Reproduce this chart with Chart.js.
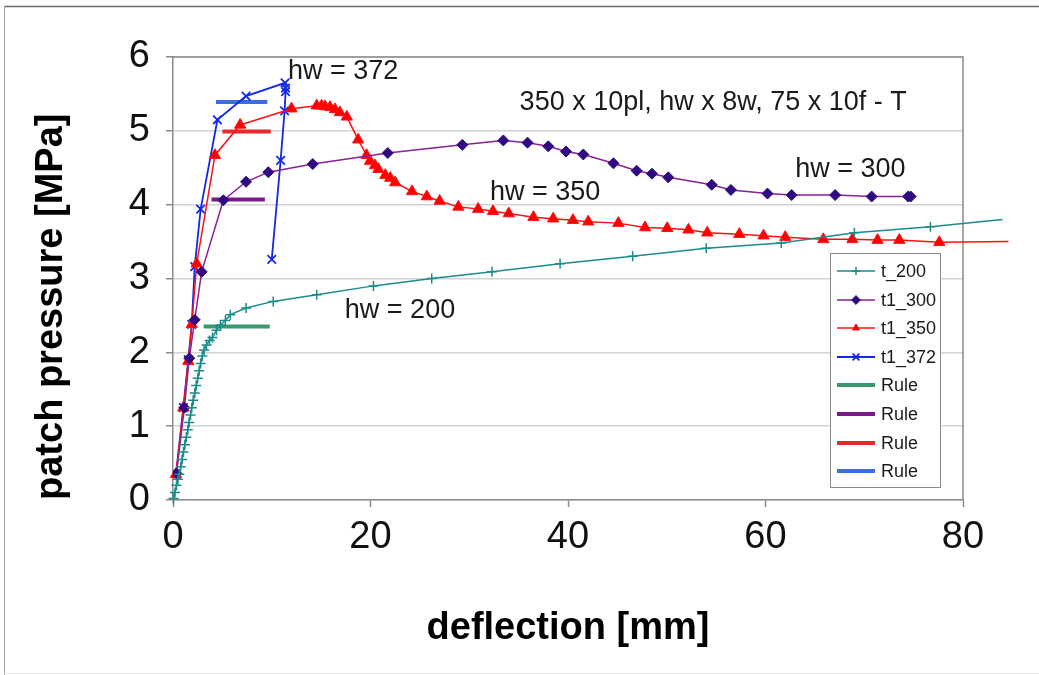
<!DOCTYPE html>
<html><head><meta charset="utf-8">
<script src="https://cdn.jsdelivr.net/npm/chart.js@4/dist/chart.umd.min.js"></script>
<style>html,body{margin:0;padding:0;background:#fff}canvas{display:block}</style>
</head><body><canvas id="c" width="1039" height="675"></canvas>
<script>
// ---- data ----
const xTicks = [0, 20, 40, 60, 80];
const yTicks = [0, 1, 2, 3, 4, 5, 6];

const t200X = [0.05,0.2,0.35,0.5,0.64,0.78,0.92,1.06,1.2,1.35,1.5,1.63,1.77,1.9,2.05,2.2,2.35,2.5,2.65,2.8,2.97,3.15,3.4,3.7,4.0,4.4,4.8,5.3,5.8,7.4,10.15,14.55,20.3,26.2,32.3,39.2,46.55,54.0,61.6,69.0,76.7,84.0];
const t200Y = [0.02,0.1,0.2,0.28,0.35,0.45,0.55,0.65,0.75,0.85,0.95,1.05,1.15,1.25,1.35,1.45,1.55,1.65,1.75,1.85,1.95,2.03,2.1,2.16,2.2,2.3,2.37,2.43,2.51,2.6,2.69,2.78,2.9,3.0,3.09,3.2,3.3,3.41,3.48,3.62,3.7,3.8];

const t300X = [0.35,1.15,1.65,2.2,2.9,5.1,7.4,9.65,14.15,21.75,29.3,33.45,35.9,38.0,39.8,41.55,44.6,46.95,48.5,50.15,54.55,56.5,60.2,62.65,67.05,70.75,74.45,74.7];
const t300Y = [0.36,1.25,1.92,2.44,3.09,4.06,4.31,4.44,4.55,4.7,4.81,4.87,4.84,4.79,4.72,4.68,4.56,4.46,4.42,4.37,4.27,4.2,4.15,4.13,4.13,4.11,4.11,4.11];

const t350X = [0.3,1.05,1.55,1.9,2.4,4.25,6.8,12.0,14.55,15.05,15.4,15.9,16.4,16.9,17.6,18.75,19.6,19.95,20.45,20.8,21.5,22.0,22.5,24.2,25.7,27.0,28.9,30.9,32.4,34.0,36.5,38.5,40.5,42.05,45.1,47.8,50.05,52.2,54.1,57.35,59.8,62.0,65.85,68.8,71.35,73.55,77.6,84.6];
const t350Y = [0.35,1.25,1.88,2.38,3.2,4.67,5.08,5.3,5.34,5.34,5.33,5.32,5.29,5.25,5.19,4.88,4.67,4.59,4.53,4.48,4.4,4.36,4.3,4.18,4.11,4.05,3.97,3.94,3.91,3.88,3.83,3.81,3.79,3.77,3.75,3.69,3.68,3.66,3.62,3.6,3.58,3.56,3.53,3.53,3.52,3.52,3.49,3.5];

const t372X = [0.3,1.05,1.55,1.9,2.2,2.8,4.5,7.4,11.35,11.4,11.4,11.3,10.9,10.0];
const t372Y = [0.34,1.25,1.9,2.38,3.16,3.94,5.15,5.47,5.65,5.58,5.53,5.27,4.6,3.26];

const rule200X = [3.1, 9.8];  const rule200Y = [2.35, 2.35];
const rule300X = [3.9, 9.3];  const rule300Y = [4.07, 4.07];
const rule350X = [5.0, 9.9];  const rule350Y = [4.99, 4.99];
const rule372X = [4.35, 9.55]; const rule372Y = [5.39, 5.39];

const seriesLabels = ['t_200', 't1_300', 't1_350', 't1_372', 'Rule', 'Rule', 'Rule', 'Rule'];

const annoText = ['hw = 372', '350 x 10pl, hw x 8w, 75 x 10f - T', 'hw = 300', 'hw = 350', 'hw = 200'];
const annoX = [11.65, 35.1, 63.0, 32.1, 17.4];
const annoY = [5.8, 5.38, 4.47, 4.17, 2.57];

const xTitle = 'deflection [mm]';
const yTitle = 'patch pressure [MPa]';

// ---- build ----
const pts = (xs, ys) => xs.map((x, i) => ({x: x, y: ys[i]}));
const FONT = "'Liberation Sans', Arial, Helvetica, sans-serif";
const hideOutside = ctx => (ctx.raw && ctx.raw.x > 80) ? 0 : undefined;

const datasets = [
  {label: seriesLabels[0], data: pts(t200X, t200Y), borderColor: '#1a8c8c', backgroundColor: '#1a8c8c',
   borderWidth: 1.5, pointStyle: 'cross', pointRadius: c => hideOutside(c) ?? 5, pointBorderWidth: 1.5, clip: false},
  {label: seriesLabels[1], data: pts(t300X, t300Y), borderColor: '#8a1f9a', backgroundColor: '#2f0a80',
   pointBorderColor: '#2f0a80', borderWidth: 1.5, pointStyle: 'rectRot', pointRadius: 5.5, pointBorderWidth: 1},
  {label: seriesLabels[2], data: pts(t350X, t350Y), borderColor: '#ff1010', backgroundColor: '#ff0000',
   borderWidth: 1.5, pointStyle: 'triangle', pointRadius: c => hideOutside(c) ?? 6.5, pointBorderWidth: 1, clip: false},
  {label: seriesLabels[3], data: pts(t372X, t372Y), borderColor: '#1428e6', backgroundColor: '#1428e6',
   borderWidth: 1.8, pointStyle: 'crossRot', pointRadius: 6, pointBorderWidth: 1.8},
  {label: seriesLabels[4], data: pts(rule200X, rule200Y), borderColor: '#3a9a6e', borderWidth: 4, pointRadius: 0},
  {label: seriesLabels[5], data: pts(rule300X, rule300Y), borderColor: '#7a1a8a', borderWidth: 4, pointRadius: 0},
  {label: seriesLabels[6], data: pts(rule350X, rule350Y), borderColor: '#e8282a', borderWidth: 4, pointRadius: 0},
  {label: seriesLabels[7], data: pts(rule372X, rule372Y), borderColor: '#3a6de0', borderWidth: 4, pointRadius: 0}
];

const framePlugin = {
  id: 'frame',
  beforeDraw(chart) {
    const ctx = chart.ctx;
    ctx.save();
    ctx.fillStyle = '#fff';
    ctx.fillRect(0, 0, chart.width, chart.height);
    ctx.strokeStyle = '#6a6a6a';
    ctx.lineWidth = 1.5;
    ctx.beginPath(); ctx.moveTo(4, 6.5); ctx.lineTo(chart.width, 6.5); ctx.stroke();
    ctx.strokeStyle = '#a0a0a0';
    ctx.lineWidth = 1;
    ctx.beginPath(); ctx.moveTo(4.5, 6); ctx.lineTo(4.5, chart.height); ctx.stroke();
    ctx.strokeStyle = '#e6e6e6';
    ctx.beginPath(); ctx.moveTo(4, chart.height - 1.5); ctx.lineTo(chart.width, chart.height - 1.5); ctx.stroke();
    ctx.restore();
  },
  beforeDatasetsDraw(chart) {
    const {ctx, chartArea: a} = chart;
    ctx.save();
    ctx.strokeStyle = '#8a8a8a';
    ctx.lineWidth = 1.5;
    ctx.beginPath();
    ctx.moveTo(a.left, a.top); ctx.lineTo(a.right, a.top); ctx.lineTo(a.right, a.bottom);
    ctx.stroke();
    ctx.restore();
  },
  afterDraw(chart) {
    const ctx = chart.ctx;
    const xs = chart.scales.x, ys = chart.scales.y;
    ctx.save();
    // annotations
    ctx.fillStyle = '#1a1a1a';
    ctx.font = '27px ' + FONT;
    ctx.textAlign = 'left';
    ctx.textBaseline = 'middle';
    annoText.forEach((t, i) => ctx.fillText(t, xs.getPixelForValue(annoX[i]), ys.getPixelForValue(annoY[i])));
    // legend
    const bx = 830, by = 253, bw = 110, bh = 234;
    ctx.fillStyle = '#fff';
    ctx.fillRect(bx, by, bw, bh);
    ctx.strokeStyle = '#8a8a8a';
    ctx.lineWidth = 1;
    ctx.strokeRect(bx + 0.5, by + 0.5, bw, bh);
    const rowY = [271, 300, 328, 357, 385, 414, 443, 471];
    chart.data.datasets.forEach((ds, i) => {
      const y = rowY[i];
      ctx.strokeStyle = ds.borderColor;
      ctx.lineWidth = ds.borderWidth;
      ctx.beginPath(); ctx.moveTo(837, y); ctx.lineTo(875, y); ctx.stroke();
      const r = typeof ds.pointRadius === 'number' ? ds.pointRadius : 5;
      if (r > 0) {
        ctx.fillStyle = ds.backgroundColor;
        ctx.strokeStyle = ds.pointBorderColor || ds.borderColor;
        ctx.lineWidth = ds.pointBorderWidth || 1;
        Chart.helpers.drawPoint(ctx, {pointStyle: ds.pointStyle, radius: r * 0.8, borderWidth: ds.pointBorderWidth || 1, rotation: 0}, 856, y);
      }
      ctx.fillStyle = '#1a1a1a';
      ctx.font = '18px ' + FONT;
      ctx.textAlign = 'left';
      ctx.textBaseline = 'middle';
      ctx.fillText(ds.label, 881, y + 1);
    });
    ctx.restore();
  }
};

new Chart(document.getElementById('c'), {
  type: 'line',
  data: {datasets: datasets},
  plugins: [framePlugin],
  options: {
    responsive: false,
    animation: false,
    devicePixelRatio: 1,
    parsing: true,
    layout: {padding: {left: 8, right: 76, top: 57, bottom: 0}},
    elements: {line: {tension: 0}},
    plugins: {legend: {display: false}, tooltip: {enabled: false}},
    scales: {
      x: {
        type: 'linear', min: xTicks[0], max: xTicks[xTicks.length - 1],
        afterFit: s => { s.height = 175; },
        afterBuildTicks: s => { s.ticks = xTicks.map(v => ({value: v})); },
        ticks: {font: {family: FONT, size: 38}, color: '#111', padding: 8, maxRotation: 0},
        grid: {drawOnChartArea: false, drawTicks: true, tickLength: 7, tickColor: '#8a8a8a', tickWidth: 1.5},
        border: {color: '#8a8a8a', width: 1.5},
        title: {display: true, text: xTitle, font: {family: FONT, size: 38, weight: 'bold'}, color: '#000', padding: {top: 0, bottom: 24}}
      },
      y: {
        type: 'linear', min: yTicks[0], max: yTicks[yTicks.length - 1],
        afterFit: s => { s.width = 165; },
        afterBuildTicks: s => { s.ticks = yTicks.map(v => ({value: v})); },
        ticks: {font: {family: FONT, size: 38}, color: '#111', padding: 16},
        grid: {color: '#d2d2d2', lineWidth: 1.5, drawTicks: true, tickLength: 7, tickColor: '#8a8a8a', tickWidth: 1.5},
        border: {color: '#8a8a8a', width: 1.5},
        title: {display: true, text: yTitle, align: 'start', font: {family: FONT, size: 38, weight: 'bold'}, color: '#000', padding: {top: 21, bottom: 0}}
      }
    }
  }
});
</script>
</body></html>
